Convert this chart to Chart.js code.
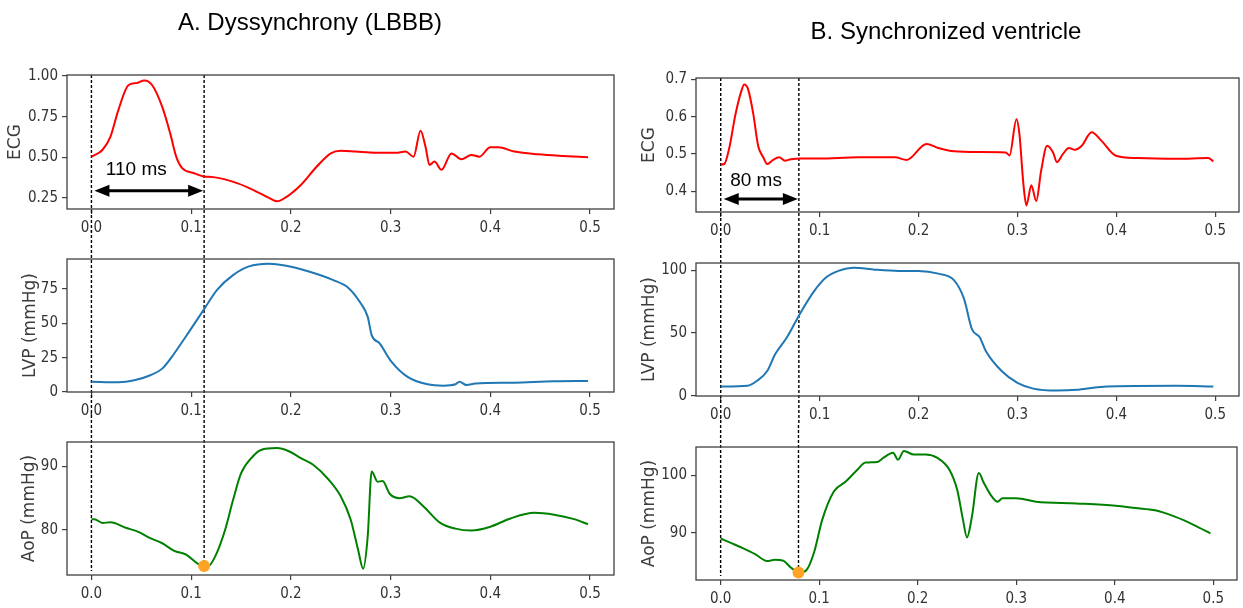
<!DOCTYPE html>
<html>
<head>
<meta charset="utf-8">
<script src="https://cdn.jsdelivr.net/npm/chart.js@4.4.1/dist/chart.umd.min.js"></script>
<style>
  body { margin: 0; background: #fff; }
  #fig { position: relative; width: 1243px; height: 608px; overflow: hidden; }
  #fig canvas { position: absolute; }
  .ttl { position: absolute; font: 24px 'Liberation Sans', Arial, sans-serif; color: #000;
         white-space: nowrap; transform: translate(-50%, -50%); }
</style>
</head>
<body>
<div id="fig">
  <canvas id="ecgA" width="620" height="240" style="left:0;top:0"></canvas>
  <canvas id="lvpA" width="620" height="185" style="left:0;top:240px"></canvas>
  <canvas id="aopA" width="620" height="183" style="left:0;top:425px"></canvas>
  <canvas id="ecgB" width="623" height="240" style="left:620px;top:0"></canvas>
  <canvas id="lvpB" width="623" height="185" style="left:620px;top:240px"></canvas>
  <canvas id="aopB" width="623" height="183" style="left:620px;top:425px"></canvas>
  <div class="ttl" style="left:310px;top:22px">A. Dyssynchrony (LBBB)</div>
  <div class="ttl" style="left:946px;top:31px">B. Synchronized ventricle</div>
</div>
<script>
'use strict';

// time axis (s)
let xTicks = [0, 0.1, 0.2, 0.3, 0.4, 0.5];

// A. Dyssynchrony (LBBB)
let ecgA_t = [0, 0.011, 0.019, 0.027, 0.037, 0.045, 0.053, 0.061, 0.071, 0.079, 0.085, 0.091, 0.103, 0.1125,
  0.122, 0.146, 0.162, 0.178, 0.186, 0.194, 0.21, 0.226, 0.24, 0.25, 0.265, 0.285, 0.305, 0.315, 0.323,
  0.330, 0.335, 0.339, 0.344, 0.351, 0.361, 0.371, 0.381, 0.389, 0.40, 0.408, 0.424, 0.448, 0.472, 0.498];
let ecgA_v = [0.504, 0.545, 0.626, 0.79, 0.943, 0.956, 0.972, 0.943, 0.81, 0.647, 0.504, 0.433, 0.402, 0.382,
  0.378, 0.341, 0.30, 0.25, 0.229, 0.25, 0.33, 0.443, 0.524, 0.54, 0.535, 0.528, 0.528, 0.535, 0.504,
  0.663, 0.565, 0.453, 0.474, 0.423, 0.524, 0.488, 0.514, 0.504, 0.561, 0.561, 0.535, 0.518, 0.508, 0.50];

let lvpA_t = [0, 0.027, 0.043, 0.059, 0.071, 0.083, 0.099, 0.1125, 0.126, 0.142, 0.158, 0.178, 0.194, 0.218,
  0.242, 0.258, 0.270, 0.277, 0.281, 0.289, 0.301, 0.317, 0.337, 0.353, 0.365, 0.369, 0.376, 0.385, 0.424,
  0.464, 0.498];
let lvpA_v = [7.5, 7.1, 8.5, 12.2, 17, 28, 45, 59.7, 74.3, 85, 91.3, 93.2, 92, 87.6,
  81.5, 75.5, 64.5, 54.8, 41.4, 35.3, 21.9, 11, 5.6, 4.6, 5.6, 7.5, 5.1, 6.1, 6.8,
  7.8, 8];

let aopA_t = [0, 0.003, 0.011, 0.019, 0.035, 0.047, 0.059, 0.071, 0.083, 0.095, 0.1065, 0.1125, 0.1165, 0.124,
  0.134, 0.142, 0.150, 0.162, 0.170, 0.186, 0.198, 0.21, 0.222, 0.238, 0.25, 0.26, 0.2675, 0.2725, 0.277,
  0.281, 0.287, 0.292, 0.299, 0.309, 0.319, 0.333, 0.349, 0.365, 0.381, 0.40, 0.42, 0.444, 0.464, 0.484, 0.498];
let aopA_v = [81.7, 81.7, 81.1, 81.2, 80.3, 79.7, 78.7, 77.9, 76.7, 76.1, 74.7, 74.3, 74.2, 75.8,
  80, 84.7, 88.9, 91.6, 92.6, 92.9, 92.4, 91.3, 90.3, 87.9, 85.3, 81.6, 76.8, 73.9, 78.9,
  89.2, 87.6, 87.7, 85.7, 85.0, 85.3, 83.7, 81.2, 80.2, 79.9, 80.5, 81.8, 82.7, 82.4, 81.7, 80.9];

// end of the 110 ms delay, marked on the aortic pressure minimum
let markA_t = [0.113];
let markA_v = [74.3];

// B. Synchronized ventricle
let ecgB_t = [0, 0.0036, 0.0088, 0.0149, 0.0209, 0.0237, 0.0277, 0.033, 0.0378, 0.043, 0.047, 0.053, 0.059,
  0.065, 0.071, 0.081, 0.099, 0.139, 0.176, 0.188, 0.208, 0.22, 0.236, 0.26, 0.288, 0.292, 0.299, 0.302,
  0.306, 0.309, 0.314, 0.319, 0.324, 0.330, 0.336, 0.340, 0.346, 0.352, 0.358, 0.365, 0.375, 0.385, 0.399,
  0.421, 0.461, 0.493, 0.498];
let ecgB_v = [0.4716, 0.473, 0.518, 0.606, 0.669, 0.686, 0.673, 0.606, 0.522, 0.491, 0.473, 0.484, 0.491,
  0.482, 0.486, 0.488, 0.488, 0.491, 0.491, 0.484, 0.527, 0.516, 0.507, 0.505, 0.504, 0.496, 0.593, 0.553,
  0.420, 0.362, 0.416, 0.374, 0.456, 0.522, 0.504, 0.478, 0.5, 0.516, 0.511, 0.522, 0.558, 0.535, 0.496,
  0.489, 0.487, 0.489, 0.48];

let lvpB_t = [0, 0.027, 0.037, 0.047, 0.055, 0.067, 0.081, 0.095, 0.107, 0.119, 0.135, 0.156, 0.18, 0.2,
  0.22, 0.236, 0.246, 0.254, 0.262, 0.268, 0.284, 0.300, 0.316, 0.340, 0.360, 0.381, 0.401, 0.461, 0.498];
let lvpB_v = [7.2, 7.8, 12, 19.6, 33, 46.5, 66.6, 84, 94.6, 99.5, 102.1, 100.5, 99.5, 99.5,
  97.3, 92, 77.2, 53, 46.4, 35.6, 19.6, 10.2, 5.6, 4, 4.6, 6.7, 7.5, 7.8, 7.2];

let aopB_t = [0, 0.011, 0.023, 0.035, 0.047, 0.055, 0.063, 0.071, 0.080, 0.087, 0.095, 0.103, 0.115, 0.127,
  0.139, 0.147, 0.159, 0.165, 0.175, 0.18, 0.186, 0.196, 0.208, 0.22, 0.232, 0.24, 0.246, 0.25, 0.255,
  0.262, 0.267, 0.274, 0.281, 0.286, 0.300, 0.32, 0.361, 0.401, 0.421, 0.441, 0.461, 0.481, 0.497];
let aopB_v = [89.0, 88.2, 87.3, 86.3, 85.1, 85.3, 85.2, 84.0, 83.1, 83.5, 86.7, 92.2, 97.2, 98.9,
  101, 102.2, 102.3, 103, 103.9, 102.7, 104.2, 103.6, 103.6, 103, 101, 97.5, 92.2, 89.2, 92.8,
  100.4, 98.7, 96.6, 95.4, 96, 96, 95.4, 95.1, 94.7, 94.3, 93.9, 92.8, 91.3, 89.9];

let markB_t = [0.079];
let markB_v = [83.1];

// y ticks
let ecgA_ticks = [0.25, 0.5, 0.75, 1.0];
let lvpA_ticks = [0, 25, 50, 75];
let aopA_ticks = [80, 90];
let ecgB_ticks = [0.4, 0.5, 0.6, 0.7];
let lvpB_ticks = [0, 50, 100];
let aopB_ticks = [90, 100];

const TICK_FONT = {family: "'DejaVu Sans Condensed', 'DejaVu Sans', sans-serif", size: 15};
const TITLE_FONT = {family: "'DejaVu Sans', sans-serif", size: 17};
const AXIS_COL = '#404040';

function toPoints(t, v) {
  return t.map((x, i) => ({x: x, y: v[i]}));
}

function drawArrow(ctx, x0, x1, y) {
  let hl = 15, hw = 6;
  ctx.lineWidth = 3;
  ctx.beginPath();
  ctx.moveTo(x0 + hl - 2, y);
  ctx.lineTo(x1 - hl + 2, y);
  ctx.stroke();
  ctx.beginPath();
  ctx.moveTo(x0, y); ctx.lineTo(x0 + hl, y - hw); ctx.lineTo(x0 + hl, y + hw); ctx.closePath();
  ctx.moveTo(x1, y); ctx.lineTo(x1 - hl, y - hw); ctx.lineTo(x1 - hl, y + hw); ctx.closePath();
  ctx.fill();
}

// dashed time markers, frame, delay arrow and its label
const overlay = {
  id: 'overlay',
  beforeDatasetsDraw(chart, args, opts) {
    let ctx = chart.ctx, a = chart.chartArea, x = chart.scales.x, y = chart.scales.y;
    ctx.save();
    ctx.strokeStyle = '#000';
    ctx.lineWidth = 1.4;
    ctx.setLineDash([3, 2]);
    (opts.vlines || []).forEach(l => {
      let px = x.getPixelForValue(l.x);
      let y0 = l.from === 'area' ? a.top : 0;
      let y1 = l.to === 'canvas' ? chart.height : (typeof l.to === 'number' ? y.getPixelForValue(l.to) : a.bottom - 4);
      ctx.beginPath();
      ctx.moveTo(px, y0);
      ctx.lineTo(px, y1);
      ctx.stroke();
    });
    ctx.restore();
  },
  afterDatasetsDraw(chart, args, opts) {
    let ctx = chart.ctx, a = chart.chartArea, x = chart.scales.x, y = chart.scales.y;
    ctx.save();
    ctx.strokeStyle = AXIS_COL;
    ctx.lineWidth = 1.3;
    ctx.strokeRect(a.left, a.top, a.right - a.left, a.bottom - a.top);
    if (opts.arrow) {
      ctx.strokeStyle = '#000';
      ctx.fillStyle = '#000';
      drawArrow(ctx, x.getPixelForValue(opts.arrow.x0) + 3, x.getPixelForValue(opts.arrow.x1) - 1,
        y.getPixelForValue(opts.arrow.y));
    }
    if (opts.label) {
      ctx.fillStyle = '#000';
      ctx.font = "19px 'Liberation Sans', Arial, sans-serif";
      ctx.textAlign = 'center';
      ctx.textBaseline = 'middle';
      ctx.fillText(opts.label.text, x.getPixelForValue(opts.label.x), y.getPixelForValue(opts.label.y));
    }
    ctx.restore();
  }
};

function buildPanel(id, p) {
  let datasets = [];
  if (p.mark) {
    datasets.push({
      data: p.mark,
      showLine: false,
      pointRadius: 6,
      pointBackgroundColor: '#ffa225',
      pointBorderWidth: 0
    });
  }
  datasets.push({
    data: p.points,
    borderColor: p.color,
    borderWidth: 2,
    pointRadius: 0,
    cubicInterpolationMode: 'monotone'
  });

  new Chart(document.getElementById(id), {
    type: 'line',
    data: {datasets: datasets},
    plugins: [overlay],
    options: {
      responsive: false,
      animation: false,
      events: [],
      layout: {padding: {left: 0, right: p.padRight, top: p.top, bottom: 0}},
      plugins: {
        legend: {display: false},
        tooltip: {enabled: false},
        overlay: p.overlay
      },
      scales: {
        x: {
          type: 'linear',
          min: p.xMin,
          max: p.xMax,
          afterBuildTicks: s => { s.ticks = xTicks.map(v => ({value: v})); },
          afterFit: s => { s.height = p.xh; },
          border: {display: false},
          grid: {display: true, drawOnChartArea: false, drawTicks: true, tickLength: 5, color: AXIS_COL, lineWidth: 1.2},
          ticks: {font: TICK_FONT, color: '#333', padding: 5, maxRotation: 0, autoSkip: false,
            callback: v => v.toFixed(1)}
        },
        y: {
          type: 'linear',
          min: p.yMin,
          max: p.yMax,
          afterBuildTicks: s => { s.ticks = p.yTicks.map(v => ({value: v})); },
          afterFit: s => { s.width = p.left; },
          border: {display: false},
          grid: {display: true, drawOnChartArea: false, drawTicks: true, tickLength: 5, color: AXIS_COL, lineWidth: 1.2},
          ticks: {font: TICK_FONT, color: '#333', padding: 4, autoSkip: false, callback: p.fmt},
          title: {display: true, text: p.title, font: TITLE_FONT, color: '#3c3c3c',
            padding: {top: p.titlePad, bottom: 0}}
        }
      }
    }
  });
}

function buildCharts() {
  let lineA = [{x: 0, from: 'canvas', to: 'canvas'}, {x: markA_t[0], from: 'canvas', to: 'canvas'}];
  let lineB = [{x: 0, from: 'canvas', to: 'canvas'}, {x: markB_t[0], from: 'canvas', to: 'canvas'}];
  let colA = {xMin: -0.0245, xMax: 0.524, left: 67, padRight: 6};
  let colB = {xMin: -0.025, xMax: 0.524, left: 76, padRight: 4};

  buildPanel('ecgA', Object.assign({}, colA, {
    points: toPoints(ecgA_t, ecgA_v), color: '#ff0000', top: 75, xh: 31,
    yMin: 0.182, yMax: 1.006, yTicks: ecgA_ticks, fmt: v => v.toFixed(2), title: 'ECG', titlePad: 5,
    overlay: {
      vlines: lineA.map(l => Object.assign({}, l, {from: 'area'})),
      arrow: {x0: 0, x1: markA_t[0], y: 0.294},
      label: {text: '110 ms', x: 0.045, y: 0.426}
    }
  }));
  buildPanel('lvpA', Object.assign({}, colA, {
    points: toPoints(lvpA_t, lvpA_v), color: '#1f77b4', top: 19, xh: 33,
    yMin: 0, yMax: 96.7, yTicks: lvpA_ticks, fmt: v => String(v), title: 'LVP (mmHg)', titlePad: 20,
    overlay: {vlines: lineA}
  }));
  buildPanel('aopA', Object.assign({}, colA, {
    points: toPoints(aopA_t, aopA_v), mark: toPoints(markA_t, markA_v), color: '#008000', top: 17, xh: 33,
    yMin: 72.9, yMax: 93.85, yTicks: aopA_ticks, fmt: v => String(v), title: 'AoP (mmHg)', titlePad: 19,
    overlay: {vlines: [{x: 0, from: 'canvas', to: 'area'}, {x: markA_t[0], from: 'canvas', to: markA_v[0]}]}
  }));

  buildPanel('ecgB', Object.assign({}, colB, {
    points: toPoints(ecgB_t, ecgB_v), color: '#ff0000', top: 78, xh: 28,
    yMin: 0.3445, yMax: 0.7035, yTicks: ecgB_ticks, fmt: v => v.toFixed(1), title: 'ECG', titlePad: 19,
    overlay: {
      vlines: lineB.map(l => Object.assign({}, l, {from: 'area'})),
      arrow: {x0: 0, x1: markB_t[0], y: 0.379},
      label: {text: '80 ms', x: 0.0357, y: 0.428}
    }
  }));
  buildPanel('lvpB', Object.assign({}, colB, {
    points: toPoints(lvpB_t, lvpB_v), color: '#1f77b4', top: 23, xh: 29,
    yMin: -0.3, yMax: 105.8, yTicks: lvpB_ticks, fmt: v => String(v), title: 'LVP (mmHg)', titlePad: 19,
    overlay: {vlines: lineB}
  }));
  buildPanel('aopB', Object.assign({}, colB, {
    points: toPoints(aopB_t, aopB_v), mark: toPoints(markB_t, markB_v), color: '#008000', top: 22, xh: 28,
    yMin: 81.8, yMax: 104.9, yTicks: aopB_ticks, fmt: v => String(v), title: 'AoP (mmHg)', titlePad: 19,
    overlay: {vlines: [{x: 0, from: 'canvas', to: 'area'}, {x: markB_t[0], from: 'canvas', to: markB_v[0]}]}
  }));
}

buildCharts();
</script>
</body>
</html>
